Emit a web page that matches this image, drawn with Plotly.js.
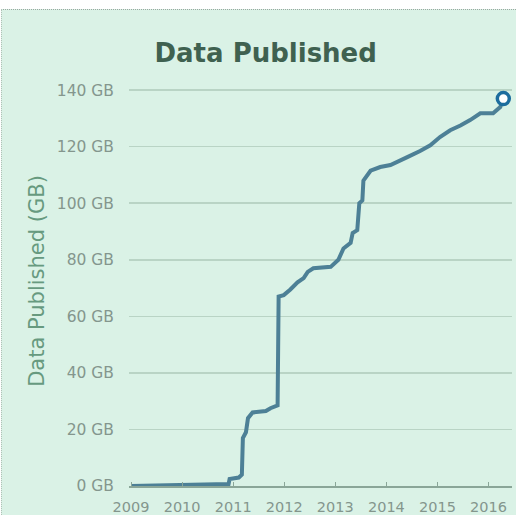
<!DOCTYPE html>
<html>
<head>
<meta charset="utf-8">
<script src="https://cdn.plot.ly/plotly-3.0.1.min.js"></script>
<style>
  html, body { margin:0; padding:0; background:#ffffff; width:516px; height:515px; overflow:hidden; }
  #frame { position:absolute; left:1px; top:9px; width:515px; height:506px; background:#daf2e6;
           border-top:1px dotted #9aa8a0; border-left:1px dotted #b0c0b6; box-sizing:border-box; }
  #chart { position:absolute; left:0; top:0; width:514px; height:505px; }
</style>
</head>
<body>
<div id="frame"><div id="chart"></div></div>
<script>
// Decimal years (x) and cumulative data published in GB (y)
const years = [2009.0, 2010.0, 2010.6, 2010.91, 2010.93, 2011.11, 2011.17, 2011.19, 2011.25, 2011.29,
               2011.38, 2011.64, 2011.73, 2011.87, 2011.89, 2011.99, 2012.12, 2012.26, 2012.38, 2012.46,
               2012.57, 2012.91, 2013.06, 2013.16, 2013.30, 2013.34, 2013.43, 2013.47, 2013.53, 2013.55,
               2013.69, 2013.88, 2014.08, 2014.21, 2014.41, 2014.66, 2014.86, 2015.05, 2015.25, 2015.45,
               2015.64, 2015.84, 2016.09, 2016.23, 2016.29];
const dataGB = [0, 0.3, 0.5, 0.7, 2.5, 3, 4, 17, 19, 24,
                26, 26.5, 27.5, 28.5, 67, 67.5, 69.5, 72, 73.5, 75.7,
                77, 77.5, 80, 84, 86, 89.5, 90.5, 100, 101, 108,
                111.5, 112.8, 113.5, 114.5, 116.3, 118.5, 120.5, 123.4, 125.8, 127.5,
                129.4, 131.8, 131.8, 134, 137];
const yearTicks = [2009, 2010, 2011, 2012, 2013, 2014, 2015, 2016];
const yearLabels = ['2009', '2010', '2011', '2012', '2013', '2014', '2015', '2016'];
const gbTicks = [0, 20, 40, 60, 80, 100, 120, 140];
const gbLabels = ['0 GB', '20 GB', '40 GB', '60 GB', '80 GB', '100 GB', '120 GB', '140 GB'];

const lastX = [years[years.length - 1]];
const lastY = [dataGB[dataGB.length - 1]];

const traces = [
  {
    x: years, y: dataGB, type: 'scatter', mode: 'lines',
    line: { color: '#4d8096', width: 4, shape: 'linear' },
    hoverinfo: 'skip', cliponaxis: false
  },
  {
    x: lastX, y: lastY, type: 'scatter', mode: 'markers',
    marker: { symbol: 'circle', size: 12, color: '#ffffff', line: { color: '#1c6d9e', width: 3.5 } },
    cliponaxis: false
  }
];

const layout = {
  width: 514, height: 505,
  margin: { l: 127, r: 4, t: 66, b: 29 },
  paper_bgcolor: '#daf2e6', plot_bgcolor: '#daf2e6',
  showlegend: false,
  font: { family: 'DejaVu Sans, Verdana, sans-serif' },
  title: {
    text: '<b>Data Published</b>',
    font: { family: 'DejaVu Sans, Verdana, sans-serif', size: 26, color: '#3f6150' },
    x: 0.513, xanchor: 'center', xref: 'container',
    y: 0.915, yanchor: 'middle', yref: 'container'
  },
  xaxis: {
    range: [2008.96, 2016.46],
    tickvals: yearTicks, ticktext: yearLabels,
    ticks: 'inside', ticklen: 4, tickwidth: 1, tickcolor: '#8aa698',
    tickfont: { size: 14.5, color: '#84968d' },
    ticklabelstandoff: 7,
    showgrid: false, zeroline: false,
    showline: true, linecolor: '#8aa698', linewidth: 1.5,
    fixedrange: true
  },
  yaxis: {
    range: [0, 145],
    tickvals: gbTicks, ticktext: gbLabels,
    ticks: '', showline: false, zeroline: false,
    showgrid: true, gridcolor: '#b9d4c5', gridwidth: 1.5,
    tickfont: { size: 15.5, color: '#84968d' },
    ticklabelstandoff: 14,
    title: { text: 'Data Published (GB)', font: { size: 21, color: '#679a7f' }, standoff: 6 },
    automargin: false,
    fixedrange: true
  }
};

Plotly.newPlot('chart', traces, layout, { displayModeBar: false, staticPlot: true });
</script>
</body>
</html>
